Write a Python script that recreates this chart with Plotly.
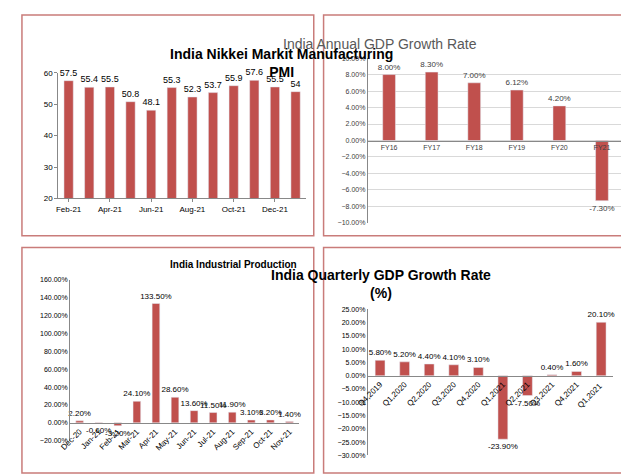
import plotly.graph_objects as go

W, H = 629, 474
RED = "#C0504D"
FONT = "Liberation Sans, Arial"

pmi_months = ["Feb-21", "Mar-21", "Apr-21", "May-21", "Jun-21", "Jul-21",
              "Aug-21", "Sep-21", "Oct-21", "Nov-21", "Dec-21", "Jan-22"]
pmi_values = [57.5, 55.4, 55.5, 50.8, 48.1, 55.3, 52.3, 53.7, 55.9, 57.6, 55.5, 54]

gdp_years = ["FY16", "FY17", "FY18", "FY19", "FY20", "FY21"]
gdp_values = [8.00, 8.30, 7.00, 6.12, 4.20, -7.30]

ip_months = ["Dec-20", "Jan-21", "Feb-21", "Mar-21", "Apr-21", "May-21",
             "Jun-21", "Jul-21", "Aug-21", "Sep-21", "Oct-21", "Nov-21"]
ip_values = [2.20, -0.60, -3.20, 24.10, 133.50, 28.60, 13.60, 11.50, 11.90, 3.10, 3.20, 1.40]

q_labels = ["Q4,2019", "Q1,2020", "Q2,2020", "Q3,2020", "Q4,2020",
            "Q1,2021", "Q2,2021", "Q3,2021", "Q4,2021", "Q1,2021 "]
q_values = [5.80, 5.20, 4.40, 4.10, 3.10, -23.90, -7.50, 0.40, 1.60, 20.10]


def px_x(p):
    return p / W


def px_y(p):
    return 1 - p / H


def zero_pos(top, bottom, lo, hi):
    # paper y of value 0 for a y axis spanning pixels top..bottom
    frac = (0 - lo) / (hi - lo)
    return px_y(bottom) + frac * (px_y(top) - px_y(bottom))


fig = go.Figure()

bar_common = dict(marker_color=RED, textposition="outside", cliponaxis=False,
                  constraintext="none")
# panel 1: PMI
fig.add_trace(go.Bar(x=pmi_months, y=pmi_values, width=0.45,
                     text=[str(v) for v in pmi_values],
                     textfont=dict(size=9, color="black"),
                     xaxis="x", yaxis="y", **bar_common))
# panel 2: annual GDP
fig.add_trace(go.Bar(x=gdp_years, y=gdp_values, width=0.3,
                     text=[f"{v:.2f}%" for v in gdp_values],
                     textfont=dict(size=8, color="#404040"),
                     xaxis="x2", yaxis="y2", **bar_common))
# panel 3: industrial production
fig.add_trace(go.Bar(x=ip_months, y=ip_values, width=0.4,
                     text=[f"{v:.2f}%" for v in ip_values],
                     textfont=dict(size=8, color="black"),
                     xaxis="x3", yaxis="y3", **bar_common))
# panel 4: quarterly GDP
fig.add_trace(go.Bar(x=q_labels, y=q_values, width=0.4,
                     text=[f"{v:.2f}%" for v in q_values],
                     textfont=dict(size=8, color="black"),
                     xaxis="x4", yaxis="y4", **bar_common))

tick = dict(size=8, color="black", family=FONT)
fig.update_layout(
    width=W, height=H, margin=dict(l=0, r=0, t=0, b=0),
    paper_bgcolor="white", plot_bgcolor="white", showlegend=False,
    font=dict(family=FONT),
    xaxis=dict(domain=[px_x(40), px_x(292)], anchor="y", tickfont=tick,
               tickvals=pmi_months[::2], showline=True, linecolor="#888",
               ticks="outside", tickcolor="#888", ticklen=3),
    yaxis=dict(domain=[px_y(190), px_y(62)], range=[20, 60], dtick=10,
               tickfont=tick, showline=True, linecolor="#888", showgrid=False,
               ticks="outside", tickcolor="#888", ticklen=3, anchor="x"),
    xaxis2=dict(domain=[px_x(355), px_x(615)], anchor="free",
                position=zero_pos(47, 215, -10, 10), tickfont=dict(size=7, color="#404040"),
                showline=True, linecolor="#888"),
    yaxis2=dict(domain=[px_y(215), px_y(47)], range=[-10, 10], dtick=2,
                ticksuffix="%", tickformat=".2f", tickfont=dict(size=7, color="#404040"),
                showgrid=True, gridcolor="#d9d9d9", zeroline=False, anchor="x2",
                showline=True, linecolor="#888"),
    xaxis3=dict(domain=[px_x(52), px_x(285)], anchor="free",
                position=zero_pos(273, 437, -20, 160), tickangle=-45, tickfont=tick,
                showline=True, linecolor="#888"),
    yaxis3=dict(domain=[px_y(437), px_y(273)], range=[-20, 160], dtick=20,
                ticksuffix="%", tickformat=".2f", tickfont=dict(size=7, color="black"),
                showgrid=False, zeroline=False, anchor="x3",
                showline=True, linecolor="#888"),
    xaxis4=dict(domain=[px_x(355), px_x(605)], anchor="free",
                position=zero_pos(303, 452, -30, 25), tickangle=-45, tickfont=tick,
                showline=True, linecolor="#888"),
    yaxis4=dict(domain=[px_y(452), px_y(303)], range=[-30, 25], dtick=5,
                ticksuffix="%", tickformat=".2f", tickfont=dict(size=7, color="black"),
                showgrid=False, zeroline=False, anchor="x4",
                showline=True, linecolor="#888"),
)

# panel frames
for x0, y0, x1, y1 in [(3, 3, 300, 228), (310, 3, 625, 228),
                       (3, 240, 300, 470), (310, 240, 625, 470)]:
    fig.add_shape(type="rect", xref="paper", yref="paper",
                  x0=px_x(x0), x1=px_x(x1), y0=px_y(y1), y1=px_y(y0),
                  line=dict(color="#C97C7A", width=1.5))

titles = [
    ("<b>India Nikkei Markit Manufacturing<br>PMI</b>", 152, 33, 14, "black"),
    ("India Annual GDP Growth Rate", 468, 22, 14, "#595959"),
    ("<b>India Industrial Production</b>", 152, 257, 10, "black"),
    ("<b>India Quarterly GDP Growth Rate<br>(%)</b>", 482, 277, 14, "black"),
]
for text, x, y, size, color in titles:
    fig.add_annotation(text=text, x=px_x(x), y=px_y(y), xref="paper", yref="paper",
                       showarrow=False, font=dict(size=size, color=color, family=FONT))

fig.write_html("out.html")
